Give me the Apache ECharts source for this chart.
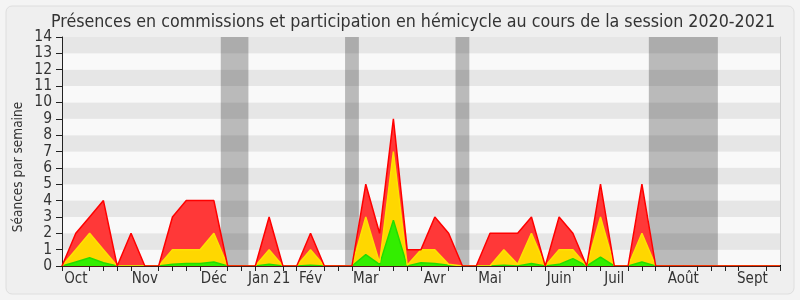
<!DOCTYPE html>
<html>
<head>
<meta charset="utf-8">
<script src="https://cdn.jsdelivr.net/npm/echarts@6/dist/echarts.min.js"></script>
<style>
  html, body { margin: 0; padding: 0; background: #f4f4f4; }
  #chart { width: 800px; height: 300px; }
</style>
</head>
<body>
<div id="chart"></div>
<script>
// Weekly tick labels (53 weeks, session 2020-2021)
var weekLabels = ['', 'Oct', '', '', '', '', 'Nov', '', '', '', '', 'Déc', '', '', '', 'Jan 21', '', '', 'Fév', '', '', '',
  'Mar', '', '', '', '', 'Avr', '', '', '', 'Mai', '', '', '', '', 'Juin', '', '', '', 'Juil', '', '', '', '', 'Août',
  '', '', '', '', 'Sept', '', ''];

// Stacked layers (per-layer amounts, bottom to top)
var greenValues = [0, 0.25, 0.5, 0.2, 0, 0, 0, 0, 0.1, 0.15, 0.15, 0.25, 0, 0, 0, 0.1, 0, 0, 0.05, 0, 0, 0,
  0.7, 0.1, 2.8, 0, 0.2, 0.15, 0.05, 0, 0, 0, 0.05, 0, 0.15, 0, 0.1, 0.45, 0, 0.55, 0, 0, 0.25, 0,
  0, 0, 0, 0, 0, 0, 0, 0, 0];
var yellowValues = [0, 0.75, 1.5, 0.8, 0, 0, 0, 0, 0.9, 0.85, 0.85, 1.75, 0, 0, 0, 0.9, 0, 0, 0.95, 0, 0, 0,
  2.3, 0.1, 4.2, 0.05, 0.8, 0.85, 0.05, 0, 0, 0, 0.95, 0.1, 1.85, 0, 0.9, 0.55, 0, 2.45, 0, 0, 1.75, 0,
  0, 0, 0, 0, 0, 0, 0, 0, 0];
var redValues = [0, 1, 1, 3, 0, 2, 0, 0, 2, 3, 3, 2, 0, 0, 0, 2, 0, 0, 1, 0, 0, 0,
  2, 1.8, 2, 0.95, 0, 2, 1.9, 0, 0, 2, 1, 1.9, 1, 0, 2, 1, 0, 2, 0, 0, 3, 0,
  0, 0, 0, 0, 0, 0, 0, 0, 0];

// Parliamentary breaks: [first week index, last week index]
var vacationWeeks = [[12, 13], [21, 21], [29, 29], [43, 47]];

var yTicks = [0, 14];

var FONT = '"DejaVu Sans Condensed", "DejaVu Sans", sans-serif';
var chart = echarts.init(document.getElementById('chart'), null, { renderer: 'canvas' });

function layer(name, values, fill, stroke) {
  return {
    name: name, type: 'line', stack: 'total', data: values,
    xAxisIndex: 0, yAxisIndex: 0,
    symbol: 'none', smooth: false, z: 3,
    lineStyle: { color: stroke, width: 1.5 },
    areaStyle: { color: fill, opacity: 1 },
    itemStyle: { color: fill },
    emphasis: { disabled: true },
    animation: false
  };
}

var option = {
  backgroundColor: '#f4f4f4',
  animation: false,
  title: {
    text: 'Présences en commissions et participation en hémicycle au cours de la session 2020-2021',
    left: 408, top: 8, textAlign: 'center',
    textStyle: { fontFamily: FONT, fontSize: 17.7, fontWeight: 'normal', color: '#333' }
  },
  graphic: [
    { type: 'rect', z: -10, shape: { x: 6, y: 6, width: 788, height: 288, r: 6 },
      style: { fill: '#efefef', stroke: '#dedede', lineWidth: 1 } },
    { type: 'text', x: 18, y: 167, rotation: Math.PI / 2,
      style: { text: 'Séances par semaine', fontFamily: FONT, fontSize: 13.5, fill: '#333',
        textAlign: 'center', textVerticalAlign: 'middle' } }
  ],
  grid: { left: 62, right: 20, top: 37, bottom: 34, containLabel: false },
  xAxis: [
    {
      type: 'category', data: weekLabels, boundaryGap: false, position: 'bottom', z: 5,
      axisLine: { show: true, lineStyle: { color: '#4a1a1a', width: 1 } },
      axisTick: { show: true, length: 5, lineStyle: { color: '#222' },
        interval: function (idx, val) { return weekLabels[idx] === ''; } },
      axisLabel: { show: true, interval: 0, margin: 6, fontFamily: FONT, fontSize: 15, color: '#333' },
      splitLine: { show: false }
    },
    {
      type: 'category', data: weekLabels, boundaryGap: false, position: 'top',
      axisLine: { show: false },
      axisTick: { show: true, length: 1, interval: 0, lineStyle: { color: '#000' } },
      axisLabel: { show: false }, splitLine: { show: false }
    },
    { type: 'value', min: 0, max: weekLabels.length - 1, show: false }
  ],
  yAxis: [
    {
      type: 'value', min: yTicks[0], max: yTicks[1], interval: 1,
      axisLine: { show: true, lineStyle: { color: '#222' } },
      axisTick: { show: true, length: 6, lineStyle: { color: '#222' } },
      axisLabel: { fontFamily: FONT, fontSize: 15.5, color: '#333', margin: 10 },
      splitLine: { show: false },
      splitArea: { show: true, areaStyle: { color: ['#f9f9f9', '#e6e6e6'] } }
    },
    {
      type: 'value', min: yTicks[0], max: yTicks[1], position: 'right',
      axisLine: { show: true, lineStyle: { color: '#d0d0d0' } },
      axisTick: { show: false }, axisLabel: { show: false },
      splitLine: { show: false }, splitArea: { show: false }
    }
  ],
  series: [
    {
      type: 'line', xAxisIndex: 2, yAxisIndex: 0, data: [[0, 0]], symbol: 'none', z: 1,
      lineStyle: { opacity: 0 }, silent: true,
      markArea: {
        silent: true,
        itemStyle: { color: 'rgba(0,0,0,0.25)' },
        data: vacationWeeks.map(function (v) { return [{ xAxis: v[0] - 0.5 }, { xAxis: v[1] + 0.5 }]; })
      }
    },
    layer('Commission', greenValues, '#33ee00', '#22dd00'),
    layer('Hémicycle', yellowValues, '#ffd700', '#ffe100'),
    layer('Présence', redValues, '#ff3838', '#ff0000')
  ]
};
chart.setOption(option);
</script>
</body>
</html>
